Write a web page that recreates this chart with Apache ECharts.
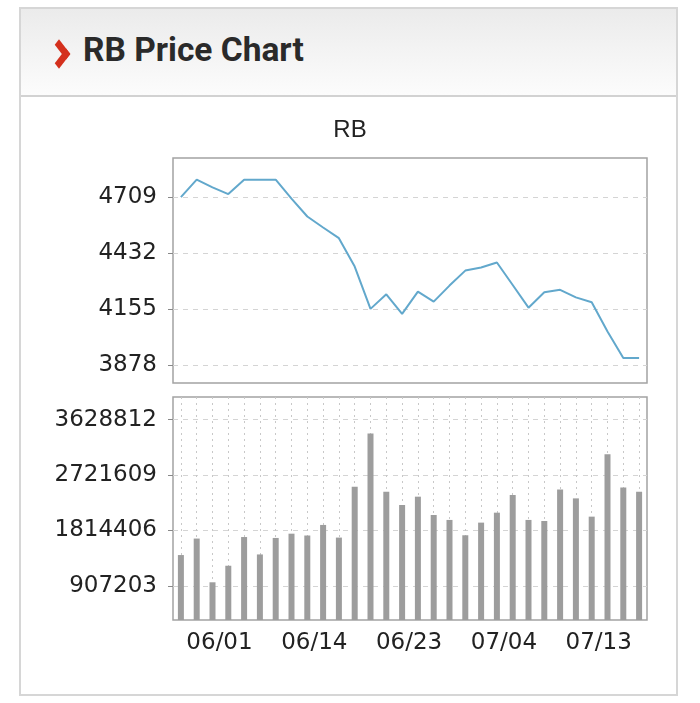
<!DOCTYPE html>
<html>
<head>
<meta charset="utf-8">
<script src="https://cdn.jsdelivr.net/npm/echarts@6/dist/echarts.min.js"></script>
<style>
  html, body { margin: 0; padding: 0; background: #fff; }
  #box {
    position: absolute; left: 19px; top: 7px; width: 655px; height: 685px;
    border: 2px solid #d6d6d6; background: #fff;
  }
  #head {
    position: absolute; left: 0; top: 0; right: 0; height: 86px;
    background: linear-gradient(#ebebeb, #fcfcfc);
    border-bottom: 2px solid #d2d2d2;
  }
  #head .chev {
    position: absolute; left: 30px; top: 37px; width: 10px; height: 10px;
    border-right: 6px solid #d4301d; border-top: 6px solid #d4301d;
    transform: scale(1.0, 1.3) rotate(45deg);
  }
  #head .txt {
    position: absolute; left: 62px; top: 21px;
    font: bold 33.5px Roboto, sans-serif; color: #2a2a2a;
  }
  #chart { position: absolute; left: 0; top: 0; width: 700px; height: 703px; }
</style>
</head>
<body>
<div id="box">
  <div id="head"><span class="chev"></span><span class="txt">RB Price Chart</span></div>
</div>
<div id="chart"></div>
<script>
const categories = [
  '05/30', '05/31', '06/01', '06/04', '06/06', '06/08', '06/11', '06/13',
  '06/14', '06/15', '06/18', '06/19', '06/20', '06/21', '06/23', '06/26',
  '06/27', '06/28', '06/29', '07/02', '07/04', '07/05', '07/06', '07/09',
  '07/10', '07/11', '07/13', '07/16', '07/17', '07/18'
]
const priceValues = [
  4709, 4795, 4757, 4724, 4795, 4795, 4795, 4701, 4613, 4559,
  4506, 4366, 4157, 4229, 4132, 4242, 4193, 4272, 4346, 4361,
  4386, 4275, 4163, 4239, 4251, 4214, 4190, 4045, 3914, 3914
]
const volumeValues = [
  1410000, 1680000, 964000, 1235000, 1705000, 1420000, 1690000, 1760000, 1730000, 1903000,
  1696000, 2529000, 3400000, 2447000, 2230000, 2366000, 2066000, 1985000, 1734000, 1941000,
  2104000, 2393000, 1985000, 1968000, 2485000, 2338000, 2039000, 3062000, 2518000, 2447000
]
const priceTicks = [3878, 4155, 4432, 4709]
const volumeTicks = [907203, 1814406, 2721609, 3628812]

const labelFont = 'DejaVu Sans'
const axisText = { fontFamily: labelFont, fontSize: 23, color: '#222' }
const plain = (v) => String(v)

const chart = echarts.init(document.getElementById('chart'), null, { renderer: 'canvas' })

chart.setOption({
  animation: false,
  backgroundColor: 'transparent',
  title: {
    text: 'RB',
    left: 'center',
    top: 113,
    textStyle: { fontFamily: 'Liberation Sans', fontSize: 24, fontWeight: 'normal', color: '#222' }
  },
  grid: [
    { left: 173, top: 158, width: 474, height: 225, show: true, borderColor: '#a3a3a3', borderWidth: 1.5 },
    { left: 173, top: 397, width: 474, height: 223, show: true, borderColor: '#a3a3a3', borderWidth: 1.5 }
  ],
  xAxis: [
    {
      gridIndex: 0, type: 'category', data: categories, boundaryGap: true,
      axisLine: { show: false }, axisTick: { show: false }, axisLabel: { show: false },
      splitLine: { show: false }
    },
    {
      gridIndex: 1, type: 'category', data: categories, boundaryGap: true,
      axisLine: { show: false }, axisTick: { show: false },
      axisLabel: {
        ...axisText,
        margin: 12,
        padding: [0, 0, 0, 14],
        interval: (i) => i % 6 === 2
      },
      splitLine: {
        show: true, interval: 0, alignWithLabel: true,
        lineStyle: { color: '#c8c8c8', type: [2, 4], width: 1 }
      }
    }
  ],
  yAxis: [
    {
      gridIndex: 0, type: 'value', min: 3791, max: 4902,
      axisLine: { show: false },
      axisTick: { show: true, length: 5, customValues: priceTicks, lineStyle: { color: '#888' } },
      axisLabel: { ...axisText, margin: 16, customValues: priceTicks, formatter: plain },
      splitLine: { show: true, lineStyle: { color: '#d4d4d4', type: [5, 5], width: 1 } }
    },
    {
      gridIndex: 1, type: 'value', min: 346500, max: 3998000,
      axisLine: { show: false },
      axisTick: { show: true, length: 5, customValues: volumeTicks, lineStyle: { color: '#888' } },
      axisLabel: { ...axisText, margin: 16, customValues: volumeTicks, formatter: plain },
      splitLine: { show: true, lineStyle: { color: '#d4d4d4', type: [5, 5], width: 1 } }
    }
  ],
  series: [
    {
      name: 'RB', type: 'line', xAxisIndex: 0, yAxisIndex: 0,
      data: priceValues, showSymbol: false, symbol: 'none',
      lineStyle: { color: '#62a8cc', width: 2 }
    },
    {
      name: 'Volume', type: 'bar', xAxisIndex: 1, yAxisIndex: 1,
      data: volumeValues, barWidth: 6,
      itemStyle: { color: '#9d9d9d' }
    }
  ]
})
</script>
</body>
</html>
